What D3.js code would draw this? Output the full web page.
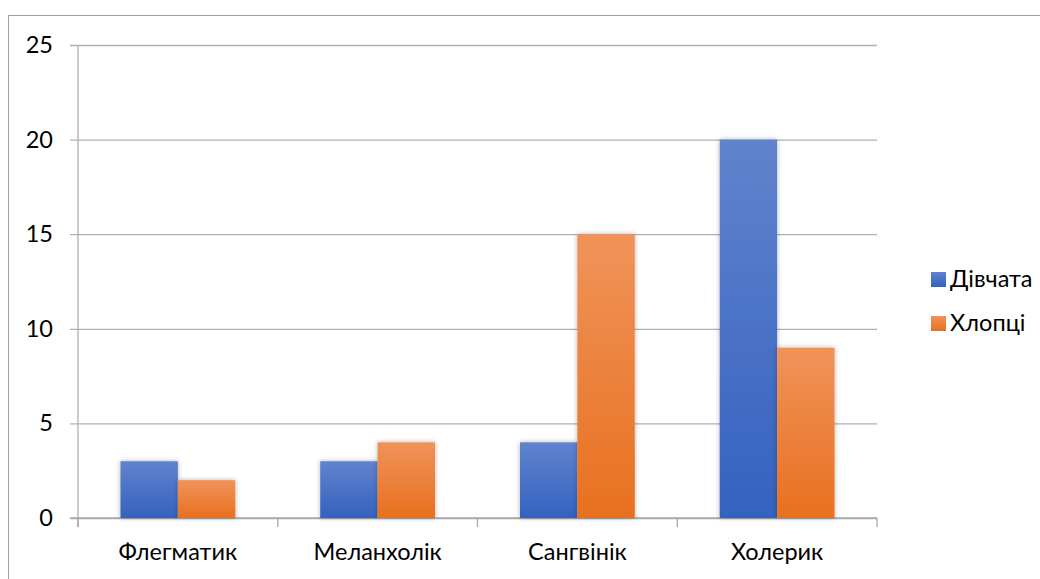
<!DOCTYPE html>
<html>
<head>
<meta charset="utf-8">
<script src="https://cdn.jsdelivr.net/npm/d3@7"></script>
<style>
  html, body { margin: 0; padding: 0; background: #fff; }
  svg { display: block; }
  text { font-family: Lato, "Open Sans", sans-serif; fill: #000; }
</style>
</head>
<body>
<svg id="chart" width="1040" height="579"></svg>
<script>
// Temperament types and counts per group
const categories = ["Флегматик", "Меланхолік", "Сангвінік", "Холерик"];
const seriesNames = ["Дівчата", "Хлопці"];
const girls = [3, 3, 4, 20];
const boys = [2, 4, 15, 9];
const yTicks = [0, 5, 10, 15, 20, 25];

const svg = d3.select("#chart");
const W = 1040, H = 579;
const plot = { left: 78, right: 877, top: 45, bottom: 518 };
const FS = 23.5;

const defs = svg.append("defs");
function grad(id, top, bottom) {
  const g = defs.append("linearGradient").attr("id", id)
    .attr("x1", 0).attr("y1", 0).attr("x2", 0).attr("y2", 1);
  g.append("stop").attr("offset", "0%").attr("stop-color", top);
  g.append("stop").attr("offset", "100%").attr("stop-color", bottom);
}
grad("gBlue", "#6183cd", "#3362bf");
grad("gOrange", "#f0935a", "#e8701f");

const shadow = defs.append("filter").attr("id", "shadow")
  .attr("x", "-20%").attr("y", "-20%").attr("width", "140%").attr("height", "140%");
shadow.append("feDropShadow").attr("dx", 0).attr("dy", 0)
  .attr("stdDeviation", 2.5).attr("flood-color", "#000").attr("flood-opacity", 0.3);

// outer chart frame
svg.append("rect").attr("x", 8.5).attr("y", 15.5)
  .attr("width", W + 20).attr("height", H + 20)
  .attr("fill", "none").attr("stroke", "#a0a0a0").attr("stroke-width", 1);

const x = d3.scaleBand().domain(categories).range([plot.left, plot.right]).paddingInner(0).paddingOuter(0);
const xs = d3.scaleBand().domain(seriesNames).range([0, x.bandwidth()]).paddingInner(0).paddingOuter(0.74);
const y = d3.scaleLinear().domain([0, 25]).range([plot.bottom, plot.top]);

// horizontal gridlines + y tick labels
const yAxis = d3.axisLeft(y).tickValues(yTicks).tickSize(-(plot.right - plot.left) - 8).tickPadding(17).tickFormat(d3.format("d"));
const gy = svg.append("g").attr("transform", `translate(${plot.left - 8},0)`).call(yAxis);
gy.select(".domain").remove();
gy.selectAll(".tick line").attr("stroke", "#b0b0b0").attr("stroke-width", 1.3);
gy.selectAll(".tick text").attr("font-size", FS).attr("font-family", "Lato, 'Open Sans', sans-serif").attr("fill", "#000");

// vertical axis line
svg.append("line").attr("x1", plot.left).attr("x2", plot.left)
  .attr("y1", plot.top).attr("y2", plot.bottom + 9)
  .attr("stroke", "#b0b0b0").attr("stroke-width", 1.3);

// bottom axis with category ticks at band boundaries
svg.append("line").attr("x1", plot.left - 8).attr("x2", plot.right)
  .attr("y1", plot.bottom).attr("y2", plot.bottom)
  .attr("stroke", "#a8a8a8").attr("stroke-width", 1.3);
const boundaries = categories.map(c => x(c)).concat([plot.right]);
svg.append("g").selectAll("line").data(boundaries).join("line")
  .attr("x1", d => d).attr("x2", d => d)
  .attr("y1", plot.bottom).attr("y2", plot.bottom + 9)
  .attr("stroke", "#a8a8a8").attr("stroke-width", 1.3);

svg.append("g").selectAll("text").data(categories).join("text")
  .attr("x", d => x(d) + x.bandwidth() / 2)
  .attr("y", 560)
  .attr("text-anchor", "middle")
  .attr("font-size", FS)
  .text(d => d);

// bars
const rows = categories.map((c, i) => ({ cat: c, values: [girls[i], boys[i]] }));
const fills = ["url(#gBlue)", "url(#gOrange)"];
const groups = svg.append("g").selectAll("g").data(rows).join("g")
  .attr("transform", d => `translate(${x(d.cat)},0)`);
groups.selectAll("rect").data(d => d.values.map((v, j) => ({ v, s: seriesNames[j], j })))
  .join("rect")
  .attr("x", d => xs(d.s))
  .attr("y", d => y(d.v))
  .attr("width", xs.bandwidth())
  .attr("height", d => y(0) - y(d.v))
  .attr("fill", d => fills[d.j])
  .attr("filter", "url(#shadow)");

// legend
const legend = svg.append("g").selectAll("g").data(seriesNames).join("g")
  .attr("transform", (d, i) => `translate(931,${272 + i * 44})`);
legend.append("rect").attr("width", 15).attr("height", 15)
  .attr("fill", (d, i) => fills[i]);
legend.append("text").attr("x", 19).attr("y", 15).attr("font-size", FS).text(d => d);
</script>
</body>
</html>
